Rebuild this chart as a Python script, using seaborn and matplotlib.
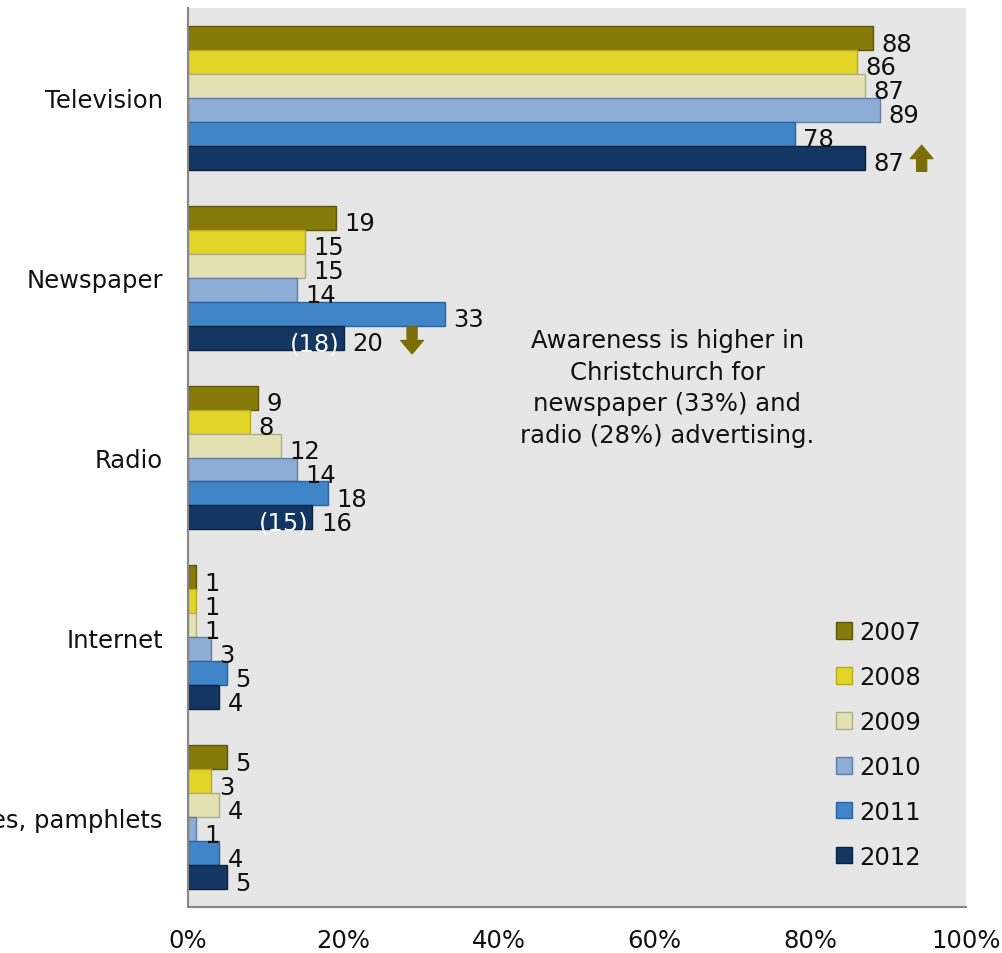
import matplotlib
matplotlib.use("Agg")
import matplotlib.pyplot as plt
import seaborn as sns
import pandas as pd
import numpy as np

categories = ["Television", "Newspaper", "Radio", "Internet", "Brochures, pamphlets"]
years = ["2007", "2008", "2009", "2010", "2011", "2012"]
values = {
    "2007": [88, 19, 9, 1, 5],
    "2008": [86, 15, 8, 1, 3],
    "2009": [87, 15, 12, 1, 4],
    "2010": [89, 14, 14, 3, 1],
    "2011": [78, 33, 18, 5, 4],
    "2012": [87, 20, 16, 4, 5],
}
inner_labels = {("Newspaper", "2012"): "(18)", ("Radio", "2012"): "(15)"}
arrows = {("Television", "2012"): "up", ("Newspaper", "2012"): "down"}
x_ticks = [0, 20, 40, 60, 80, 100]
x_ticklabels = ["0%", "20%", "40%", "60%", "80%", "100%"]
note = "Awareness is higher in\nChristchurch for\nnewspaper (33%) and\nradio (28%) advertising."

colors = ["#857A0A", "#E3D42A", "#E4E1B4", "#8EADD4", "#3F85C8", "#133762"]
edges = ["#5E560A", "#B7A91C", "#B0AD86", "#5F7FA8", "#2C64A0", "#0A2340"]

rows = []
for y in years:
    for c, v in zip(categories, values[y]):
        rows.append({"category": c, "year": y, "value": v})
df = pd.DataFrame(rows)

sns.set_theme(style="white")
plt.rcParams["font.family"] = ["DejaVu Sans"]
plt.rcParams["text.color"] = "#111111"

fig = plt.figure(figsize=(10.02, 9.54), dpi=100)
ax = fig.add_axes([188/1002, 1 - 908/954, (966-188)/1002, (908-9)/954])
ax.set_facecolor("#E6E6E6")

sns.barplot(data=df, x="value", y="category", hue="year", order=categories,
            hue_order=years, palette=colors, orient="h", width=0.8,
            ax=ax, saturation=1, legend=True)

fs = 17.5
arrow_color = "#7A6E08"
arrow_style = "simple,head_width=1.35,head_length=0.8,tail_width=0.6"
for i, cont in enumerate(ax.containers):
    yr = years[i]
    for j, patch in enumerate(cont.patches):
        patch.set_edgecolor(edges[i])
        patch.set_linewidth(1.0)
        w = patch.get_width()
        yc = patch.get_y() + patch.get_height() / 2
        cat = categories[j]
        ax.annotate(f"{w:g}", xy=(w, yc), xytext=(6, -4), textcoords="offset points",
                    ha="left", va="center", fontsize=fs, color="#111111")
        if (cat, yr) in inner_labels:
            ax.annotate(inner_labels[(cat, yr)], xy=(w, yc), xytext=(-3, -4),
                        textcoords="offset points", ha="right", va="center",
                        fontsize=fs, color="white")
        if (cat, yr) in arrows:
            if arrows[(cat, yr)] == "up":
                ax.annotate("", xy=(w + 7.3, yc - 0.07), xytext=(w + 7.3, yc + 0.075),
                            arrowprops=dict(arrowstyle=arrow_style, color=arrow_color,
                                            shrinkA=0, shrinkB=0),
                            annotation_clip=False)
            else:
                ax.annotate("", xy=(w + 8.8, yc + 0.09), xytext=(w + 8.8, yc - 0.06),
                            arrowprops=dict(arrowstyle=arrow_style, color=arrow_color,
                                            shrinkA=0, shrinkB=0),
                            annotation_clip=False)

ax.text(0.616, 0.578, note, transform=ax.transAxes, ha="center", va="center",
        fontsize=fs, color="#111111", linespacing=1.4)

ax.set_xlim(0, 100)
ax.set_ylim(len(categories) - 0.5, -0.5)
ax.set_xticks(x_ticks)
ax.set_xticklabels(x_ticklabels, fontsize=fs, color="#111111")
ax.set_yticks(range(len(categories)))
ax.set_yticklabels(categories, fontsize=fs, color="#111111")
ax.set_yticks(np.arange(-0.5, len(categories), 1), minor=True)
ax.tick_params(axis="y", which="major", length=0, pad=18)
ax.tick_params(axis="y", which="minor", length=7, width=1.2, color="#868686", direction="out")
ax.tick_params(axis="x", which="major", length=7, width=1.2, color="#868686", direction="out", pad=8)
ax.set_xlabel("")
ax.set_ylabel("")
for s in ["top", "right"]:
    ax.spines[s].set_visible(False)
for s in ["left", "bottom"]:
    ax.spines[s].set_color("#868686")
    ax.spines[s].set_linewidth(1.5)

handles, labels = ax.get_legend_handles_labels()
for h, ec in zip(handles, edges):
    h.set_edgecolor(ec)
leg = ax.legend(handles, labels, loc="upper left", bbox_to_anchor=(0.833, 0.319),
                frameon=False, fontsize=fs, labelspacing=0.86, handlelength=0.66,
                handleheight=0.66, handletextpad=0.3, borderpad=0, borderaxespad=0)
for t in leg.get_texts():
    t.set_color("#111111")

fig.savefig("out.png", dpi=100)
